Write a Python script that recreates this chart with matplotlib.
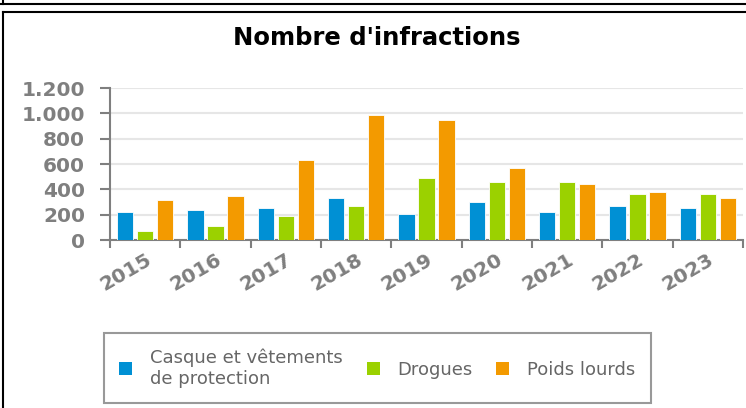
import numpy as np
import matplotlib.pyplot as plt
from matplotlib.patches import Patch
from matplotlib.lines import Line2D

years = ["2015", "2016", "2017", "2018", "2019", "2020", "2021", "2022", "2023"]
casque = [219, 235, 251, 330, 203, 298, 219, 266, 251]
drogues = [74, 108, 187, 266, 488, 456, 456, 361, 361]
poids_lourds = [314, 345, 633, 986, 951, 569, 440, 377, 330]

series_names = ["Casque et vêtements\nde protection", "Drogues", "Poids lourds"]
colors = ["#0090d4", "#9bd100", "#f39a00"]
gray = "#7f7f7f"

fig = plt.figure(figsize=(7.46, 4.08), dpi=100)
W, H = 746, 408

# outer frame lines
fig.add_artist(Line2D([0, 1], [1 - 4 / H, 1 - 4 / H], color="black", lw=1.5))
fig.add_artist(Line2D([3 / W, 3 / W], [1 - 4 / H, 1], color="black", lw=1.5))
fig.add_artist(Line2D([3 / W, 1], [1 - 12 / H, 1 - 12 / H], color="black", lw=1.5))
fig.add_artist(Line2D([3 / W, 3 / W], [0, 1 - 12 / H], color="black", lw=1.5))

ax = fig.add_axes([110 / W, 1 - 240 / H, (743 - 110) / W, (240 - 88) / H])

x = np.arange(len(years))
w = 0.23
off = 0.285
for i, (vals, c) in enumerate(zip([casque, drogues, poids_lourds], colors)):
    ax.bar(x + (i - 1) * off, vals, width=w, color=c, edgecolor="white", linewidth=0.6, zorder=3)

ax.set_xlim(-0.5, len(years) - 0.5)
ax.set_ylim(0, 1200)
ax.set_yticks(np.arange(0, 1201, 200))
ax.set_yticklabels(["0", "200", "400", "600", "800", "1.000", "1.200"])
ax.grid(axis="y", color="#e6e6e6", lw=1.5, zorder=0)

ax.set_xticks(np.arange(-0.5, len(years)))
ax.set_xticklabels([])
ax.set_xticks(x, minor=True)
ax.set_xticklabels(years, minor=True, rotation=30, ha="right", va="top",
                   rotation_mode="anchor", fontsize=14.5, fontweight="bold", color=gray)
ax.tick_params(axis="x", which="major", length=6, width=1.5, color=gray, direction="out")
ax.tick_params(axis="x", which="minor", length=0, pad=7)
ax.tick_params(axis="y", length=7, width=1.5, color=gray, pad=11,
               labelsize=14.5, labelcolor=gray)
for t in ax.get_yticklabels():
    t.set_fontweight("bold")

for s in ["top", "right"]:
    ax.spines[s].set_visible(False)
for s in ["left", "bottom"]:
    ax.spines[s].set_color(gray)
    ax.spines[s].set_linewidth(1.5)

fig.text(377 / W, 1 - 38 / H, "Nombre d'infractions", ha="center", va="center",
         fontsize=17.5, fontweight="bold", color="black")

handles = [Patch(facecolor=c, edgecolor="none") for c in colors]
leg = fig.legend(handles, series_names, loc="lower left",
                 bbox_to_anchor=(104 / W, 1 - 403 / H, (651 - 104) / W, 63 / H),
                 mode="expand", ncol=3, fontsize=13, labelcolor="#666666",
                 handlelength=0.72, handleheight=0.72, handletextpad=1.0,
                 columnspacing=0.8, borderaxespad=0, borderpad=0.85,
                 fancybox=False, framealpha=1, labelspacing=0.1)
leg.get_frame().set_edgecolor("#999999")
leg.get_frame().set_linewidth(1.5)

fig.savefig("out.png", dpi=100)
